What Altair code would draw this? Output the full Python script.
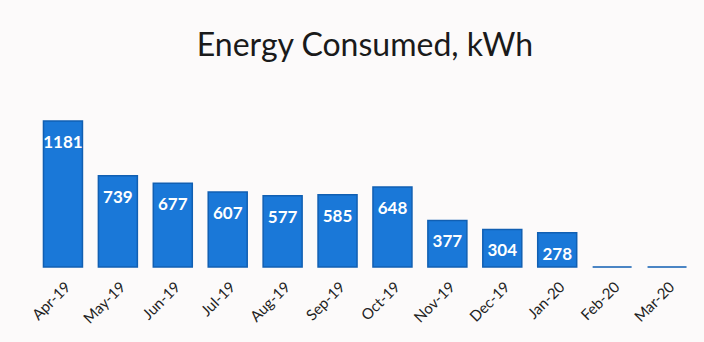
import altair as alt
import pandas as pd

months = ["Apr-19", "May-19", "Jun-19", "Jul-19", "Aug-19", "Sep-19",
          "Oct-19", "Nov-19", "Dec-19", "Jan-20", "Feb-20", "Mar-20"]
energy_kwh = [1181, 739, 677, 607, 577, 585, 648, 377, 304, 278, 0, 0]

df = pd.DataFrame({"month": months, "kwh": energy_kwh})
df["label"] = [str(v) if v > 0 else "" for v in energy_kwh]

x = alt.X("month:N", sort=months, title=None,
          scale=alt.Scale(paddingInner=0.29, paddingOuter=0.145),
          axis=alt.Axis(labelAngle=-45, domain=False, ticks=False,
                        labelPadding=12, labelFont="Lato", labelFontSize=15,
                        labelColor="#222222", labelFontWeight="normal"))
y = alt.Y("kwh:Q", title=None, scale=alt.Scale(domain=[0, 1351], nice=False),
          axis=None)

bars = alt.Chart(df).mark_bar(
    color="#1a78d8", stroke="#115fb2", strokeWidth=1.5
).encode(x=x, y=y)

labels = alt.Chart(df).mark_text(
    color="white", font="Lato", fontSize=17, fontWeight="bold",
    baseline="middle", dy=22
).encode(x=alt.X("month:N", sort=months), y="kwh:Q", text="label:N")

chart = (bars + labels).properties(
    width=659, height=167,
    title=alt.TitleParams("Energy Consumed, kWh", font="Lato", fontSize=32,
                          fontWeight="normal", color="#1a1a1a", offset=37),
    autosize=alt.AutoSizeParams(type="none"),
    padding={"left": 35.5, "top": 100, "right": 9.5, "bottom": 75},
    background="#fcfafa",
).configure_view(stroke=None)

chart.save("out.html", embed_options={"renderer": "svg", "actions": False})
